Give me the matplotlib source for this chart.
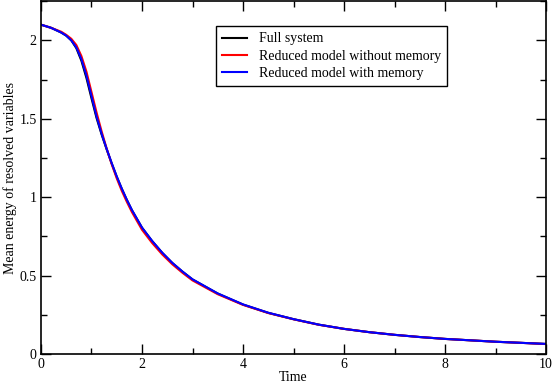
import matplotlib
matplotlib.use("Agg")
import matplotlib.pyplot as plt
from matplotlib.ticker import MultipleLocator

t = [0, 0.2, 0.4, 0.5, 0.6, 0.7, 0.8, 0.9, 1.0, 1.1, 1.2, 1.3, 1.4, 1.5, 1.6, 1.7, 1.8,
     2.0, 2.2, 2.4, 2.6, 2.8, 3.0, 3.5, 4.0, 4.5, 5.0, 5.5, 6.0, 6.5, 7.0, 7.5, 8.0,
     8.5, 9.0, 9.5, 10.0]
full = [2.10, 2.08, 2.05, 2.03, 2.00, 1.95, 1.87, 1.76, 1.63, 1.505, 1.40, 1.305, 1.215,
        1.13, 1.053, 0.982, 0.917, 0.805, 0.72, 0.645, 0.58, 0.525, 0.475, 0.385, 0.315,
        0.262, 0.222, 0.187, 0.16, 0.139, 0.122, 0.108, 0.096, 0.087, 0.078, 0.071, 0.064]
no_mem = [2.10, 2.08, 2.055, 2.035, 2.01, 1.97, 1.90, 1.80, 1.67, 1.54, 1.42, 1.31, 1.21,
          1.12, 1.04, 0.97, 0.905, 0.792, 0.708, 0.635, 0.572, 0.518, 0.469, 0.381, 0.313,
          0.261, 0.221, 0.186, 0.16, 0.139, 0.122, 0.108, 0.096, 0.087, 0.078, 0.071, 0.063]
mem = [2.10, 2.08, 2.05, 2.03, 2.00, 1.955, 1.88, 1.775, 1.645, 1.515, 1.405, 1.308, 1.217,
       1.132, 1.054, 0.983, 0.918, 0.806, 0.721, 0.646, 0.581, 0.526, 0.476, 0.386, 0.316,
       0.263, 0.222, 0.187, 0.16, 0.139, 0.122, 0.108, 0.096, 0.087, 0.078, 0.071, 0.064]

plt.rcParams['font.family'] = ['Liberation Serif', 'DejaVu Serif']

fig = plt.figure(figsize=(5.54, 3.86), dpi=100)
ax = fig.add_axes([0.074, 0.083, 0.9116, 0.914])

ax.plot(t, full, color='black', lw=1.5, label='Full system')
ax.plot(t, no_mem, color='red', lw=1.5, label='Reduced model without memory')
ax.plot(t, mem, color='blue', lw=1.5, label='Reduced model with memory')

ax.set_xlim(0, 10)
ax.set_ylim(0, 2.25)
ax.xaxis.set_major_locator(MultipleLocator(2))
ax.xaxis.set_minor_locator(MultipleLocator(1))
ax.yaxis.set_major_locator(MultipleLocator(0.5))
ax.yaxis.set_minor_locator(MultipleLocator(0.25))
ax.set_yticks([0, 0.5, 1, 1.5, 2])
ax.set_yticklabels(['0', '0.5', '1', '1.5', '2'])
ax.tick_params(which='both', direction='in', top=True, right=True, labelsize=10, pad=3)
ax.tick_params(which='major', length=7, width=1)
ax.tick_params(which='minor', length=4, width=1)
for s in ax.spines.values():
    s.set_linewidth(1.2)

ax.set_xlabel('Time', fontsize=10, labelpad=0)
ax.set_ylabel('Mean energy of resolved variables', fontsize=10, labelpad=2)

leg = ax.legend(loc='upper left', bbox_to_anchor=(0.347, 0.929), fontsize=10,
                frameon=True, fancybox=False, edgecolor='black', framealpha=1,
                handlelength=1.8, handletextpad=0.8, borderpad=0.45, labelspacing=0.3,
                borderaxespad=0)
leg.get_frame().set_linewidth(1.0)

fig.savefig('out.png', dpi=100)
